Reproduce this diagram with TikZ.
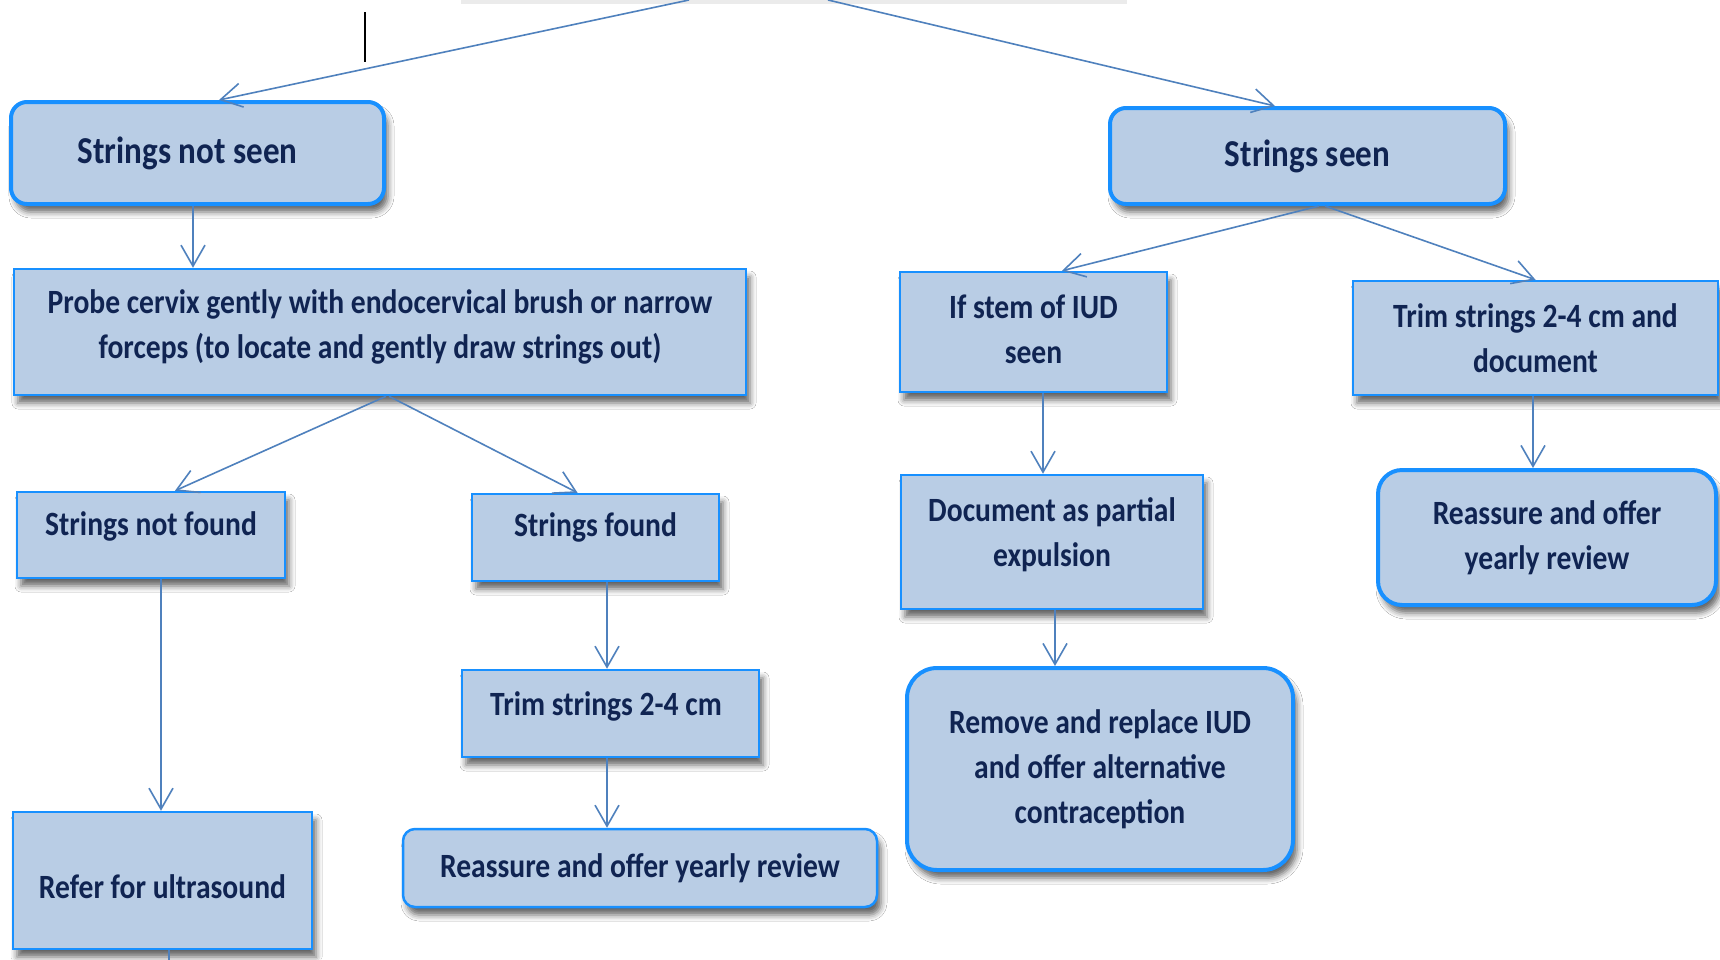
\documentclass[tikz,border=0pt]{standalone}
\usepackage{fontspec}
\setmainfont{Carlito}
\newfontfamily\boxfont{Carlito}[FakeStretch=0.87]
\usetikzlibrary{arrows.meta,shadows.blur}
\definecolor{boxfill}{RGB}{185,205,229}
\definecolor{boxline}{RGB}{24,144,255}
\definecolor{conncol}{RGB}{79,129,189}
\definecolor{txtcol}{RGB}{16,36,82}
\newcommand\dropdn[1]{\rule[-#1pt]{0pt}{0pt}}
\newcommand\liftup[1]{\rule{0pt}{#1pt}}
\begin{document}
\begin{tikzpicture}[x=1pt,y=-1pt,
  basebox/.style={fill=boxfill, draw=boxline, text=txtcol, align=center, inner sep=0pt,
    font=\boxfont\bfseries\fontsize{34}{45}\selectfont,
    blur shadow={shadow xshift=4pt, shadow yshift=-8pt, shadow blur radius=6pt, shadow opacity=60}},
  rectbox/.style={basebox, line width=2.5pt},
  roundbox/.style={basebox, line width=4pt, rounded corners=#1},
  thinround/.style={basebox, line width=2.5pt, rounded corners=#1},
  bigtext/.style={font=\boxfont\bfseries\fontsize{38}{45}\selectfont},
  conn/.style={draw=conncol, line width=1.6pt, -{Straight Barb[length=21pt,width=24pt]}},
  plainline/.style={draw=conncol, line width=1.6pt}
]
\useasboundingbox (0,0) rectangle (1720,959);
\fill[white] (0,0) rectangle (1720,959);

% cut-off box above the picture (only its shadow shows)
\fill[black!8] (461,0) rectangle (1127,4);
\coordinate (topL) at (689,0);
\coordinate (topR) at (828,0);

% cursor mark
\draw[black, line width=2pt] (365,12) -- (365,62);

% nodes
\node[roundbox=16pt, bigtext, minimum width=373pt, minimum height=102pt] (A) at (197.5,153) {Strings not seen\hspace*{20pt}};
\node[roundbox=16pt, bigtext, minimum width=395pt, minimum height=96pt] (B) at (1307.5,156) {Strings seen};
\node[rectbox, minimum width=732pt, minimum height=126pt] (C) at (380,332)
  {Probe cervix gently with endocervical brush or narrow\\forceps (to locate and gently draw strings out)\dropdn{15}};
\node[rectbox, minimum width=267pt, minimum height=120pt] (D) at (1033.5,332) {If stem of IUD\\seen\dropdn{6}};
\node[rectbox, minimum width=365pt, minimum height=114pt] (E) at (1535.5,338) {Trim strings 2-4 cm and\\document};
\node[rectbox, minimum width=268pt, minimum height=86pt] (F) at (151,535) {Strings not found\dropdn{22}};
\node[rectbox, minimum width=247pt, minimum height=87pt] (G) at (595.5,537.5) {Strings found\dropdn{25}};
\node[rectbox, minimum width=302pt, minimum height=134pt] (H) at (1052,542) {Document as partial\\expulsion\dropdn{20}};
\node[roundbox=24pt, minimum width=338pt, minimum height=135pt] (I) at (1547,537.5) {Reassure and offer\\yearly review\dropdn{2}};
\node[rectbox, minimum width=297pt, minimum height=87pt] (J) at (610.5,713.5) {Trim strings 2-4 cm\hspace*{9pt}\dropdn{19}};
\node[thinround=12pt, minimum width=474pt, minimum height=78pt] (K) at (640,868) {Reassure and offer yearly review};
\node[roundbox=30pt, minimum width=386pt, minimum height=202pt] (L) at (1100,769) {Remove and replace IUD\\and offer alternative\\contraception};
\node[rectbox, minimum width=299pt, minimum height=137pt] (M) at (162.5,880.5) {\liftup{36}Refer for ultrasound};
\coordinate (Mout) at (169,965);

% connectors
\draw[conn] (topL) -- ([xshift=21.5pt]A.north);
\draw[conn] (topR) -- ([xshift=-32.5pt]B.north);
\draw[conn] ([xshift=-4.5pt]A.south) -- ([xshift=-4.5pt]A.south |- C.north);
\draw[conn] ([xshift=6pt]C.south) -- ([xshift=24pt]F.north);
\draw[conn] ([xshift=9pt]C.south) -- ([xshift=-18pt]G.north);
\draw[conn] ([xshift=10pt]F.south) -- ([xshift=10pt]F.south |- M.north);
\draw[conn] ([xshift=11.5pt]G.south) -- ([xshift=11.5pt]G.south |- J.north);
\draw[conn] ([xshift=-3.5pt]J.south) -- ([xshift=-3.5pt]J.south |- K.north);
\draw[conn] ([xshift=11.5pt]B.south) -- ([xshift=28.5pt]D.north);
\draw[conn] ([xshift=17.5pt]B.south) -- (E.north);
\draw[conn] ([xshift=9.5pt]D.south) -- ([xshift=9.5pt]D.south |- H.north);
\draw[conn] ([xshift=-2.5pt]E.south) -- ([xshift=-2.5pt]E.south |- I.north);
\draw[conn] ([xshift=3pt]H.south) -- ([xshift=3pt]H.south |- L.north);
\draw[plainline] (M.south -| Mout) -- (Mout);
\end{tikzpicture}
\end{document}
